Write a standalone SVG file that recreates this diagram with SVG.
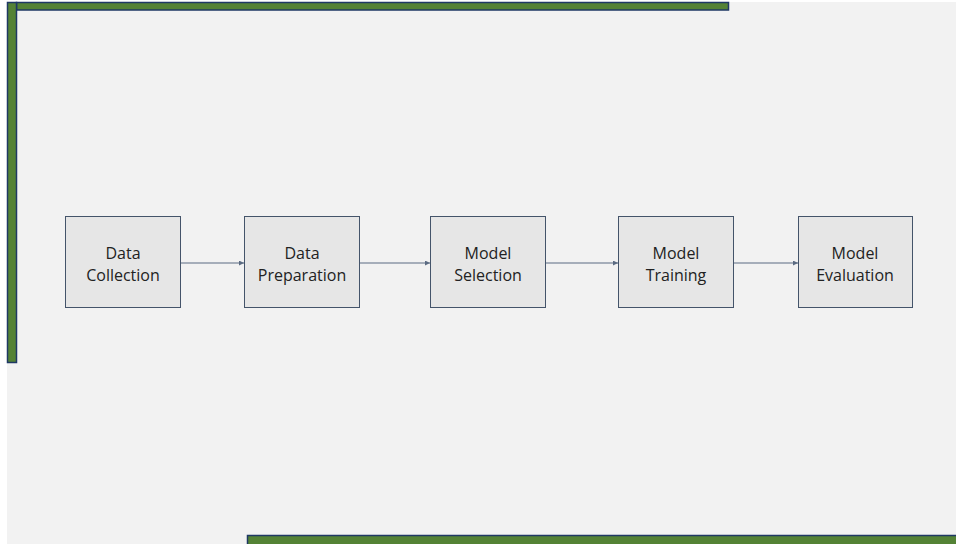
<svg xmlns="http://www.w3.org/2000/svg" width="956" height="544" viewBox="0 0 956 544">
  <style>
    .frame { fill: #548235; stroke: #1f3864; stroke-width: 1.5; }
    .node rect { fill: #e6e6e6; stroke: #44546a; stroke-width: 1; }
    .node text { font-family: "Open Sans", "Liberation Sans", sans-serif; font-size: 16px; fill: #222222; text-anchor: middle; }
    .edge { stroke: #5b6b82; stroke-width: 1.2; fill: none; marker-end: url(#arrow); }
  </style>
  <defs>
    <marker id="arrow" viewBox="0 0 10 10" refX="10" refY="5" markerWidth="6" markerHeight="5" orient="auto" markerUnits="userSpaceOnUse">
      <path d="M0,0 L10,5 L0,10 z" fill="#5b6b82"/>
    </marker>
  </defs>

  <!-- page -->
  <rect x="0" y="0" width="956" height="544" fill="#ffffff"/>
  <rect x="7" y="2" width="949" height="542" fill="#f2f2f2"/>

  <!-- decorative frame bars -->
  <g id="frame-bars">
    <rect class="frame" x="16.5" y="2.5" width="712" height="7.5"/>
    <rect class="frame" x="7.5" y="2.5" width="9" height="360"/>
    <rect class="frame" x="247.5" y="535.5" width="710" height="10"/>
  </g>

  <!-- connectors -->
  <g id="connectors">
    <line class="edge" x1="180" y1="263" x2="244" y2="263"/>
    <line class="edge" x1="359" y1="263" x2="430" y2="263"/>
    <line class="edge" x1="545" y1="263" x2="618" y2="263"/>
    <line class="edge" x1="733" y1="263" x2="798" y2="263"/>
  </g>

  <g id="data-collection" class="node">
    <rect x="65.5" y="216.5" width="115" height="91"/>
    <text x="123" y="259">Data</text>
    <text x="123" y="281">Collection</text>
  </g>
  <g id="data-preparation" class="node">
    <rect x="244.5" y="216.5" width="115" height="91"/>
    <text x="302" y="259">Data</text>
    <text x="302" y="281">Preparation</text>
  </g>
  <g id="model-selection" class="node">
    <rect x="430.5" y="216.5" width="115" height="91"/>
    <text x="488" y="259">Model</text>
    <text x="488" y="281">Selection</text>
  </g>
  <g id="model-training" class="node">
    <rect x="618.5" y="216.5" width="115" height="91"/>
    <text x="676" y="259">Model</text>
    <text x="676" y="281">Training</text>
  </g>
  <g id="model-evaluation" class="node">
    <rect x="798.5" y="216.5" width="114" height="91"/>
    <text x="855" y="259">Model</text>
    <text x="855" y="281">Evaluation</text>
  </g>
</svg>
